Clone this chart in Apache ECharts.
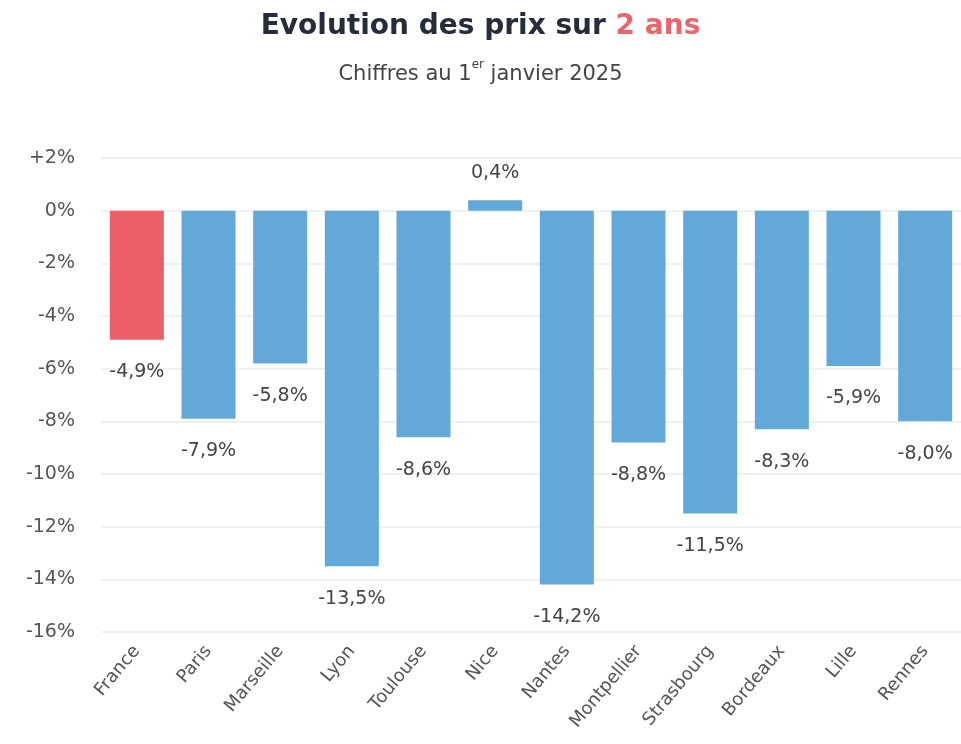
<!DOCTYPE html>
<html><head><meta charset="utf-8">
<script src="https://cdn.jsdelivr.net/npm/echarts@6/dist/echarts.min.js"></script>
<style>html,body{margin:0;padding:0;background:#fff}#c{width:961px;height:744px}</style>
</head><body><div id="c"></div>
<script>
const categories = ['France','Paris','Marseille','Lyon','Toulouse','Nice','Nantes','Montpellier','Strasbourg','Bordeaux','Lille','Rennes'];
const values = [-4.9,-7.9,-5.8,-13.5,-8.6,0.4,-14.2,-8.8,-11.5,-8.3,-5.9,-8.0];
const highlight = ['France'];
const FONT = 'DejaVu Sans, Noto Sans, sans-serif';
const chart = echarts.init(document.getElementById('c'));
chart.setOption({
  animation:false,
  backgroundColor:'#fff',
  title:[{
    text:'{a|Evolution des prix sur }{b|2 ans}',
    left:'center', top:8,
    textStyle:{rich:{
      a:{fontFamily:FONT,fontSize:28,fontWeight:'bold',color:'#262d3a'},
      b:{fontFamily:FONT,fontSize:28,fontWeight:'bold',color:'#e8656d'}
    }}
  },{
    text:'{a|Chiffres au 1}{s|er}{a| janvier 2025}',
    left:'center', top:54,
    textStyle:{fontWeight:'normal',rich:{
      a:{fontFamily:FONT,fontSize:21,fontWeight:'normal',color:'#444',verticalAlign:'bottom',lineHeight:26},
      s:{fontFamily:FONT,fontSize:12,fontWeight:'normal',color:'#444',verticalAlign:'top',lineHeight:26,padding:[0,0,8,0]}
    }}
  }],
  grid:{left:101,right:0,top:158,bottom:112,containLabel:false},
  xAxis:{
    type:'category', data:categories,
    axisLine:{show:false}, axisTick:{show:false},
    axisLabel:{rotate:50,margin:16,fontFamily:FONT,fontSize:18,color:'#555'}
  },
  yAxis:{
    type:'value', min:-16, max:2, interval:2,
    axisLine:{show:false}, axisTick:{show:false},
    axisLabel:{margin:26,fontFamily:FONT,fontSize:19,color:'#555',
      formatter:v=> (v>0?'+':'')+v+'%'},
    splitLine:{lineStyle:{color:'#ececec',width:1.5}}
  },
  series:[{
    type:'bar', barWidth:54,
    data:values.map((v,i)=>({
      value:v,
      itemStyle:{color: highlight.includes(categories[i])?'#ec5f67':'#62a9da'},
      label:{show:true,position: v<0?'bottom':'top', distance: v<0?23:18}
    })),
    label:{fontFamily:FONT,fontSize:19,color:'#444',
      formatter:p=>p.value.toFixed(1).replace('.',',')+'%'}
  }]
});
</script></body></html>
